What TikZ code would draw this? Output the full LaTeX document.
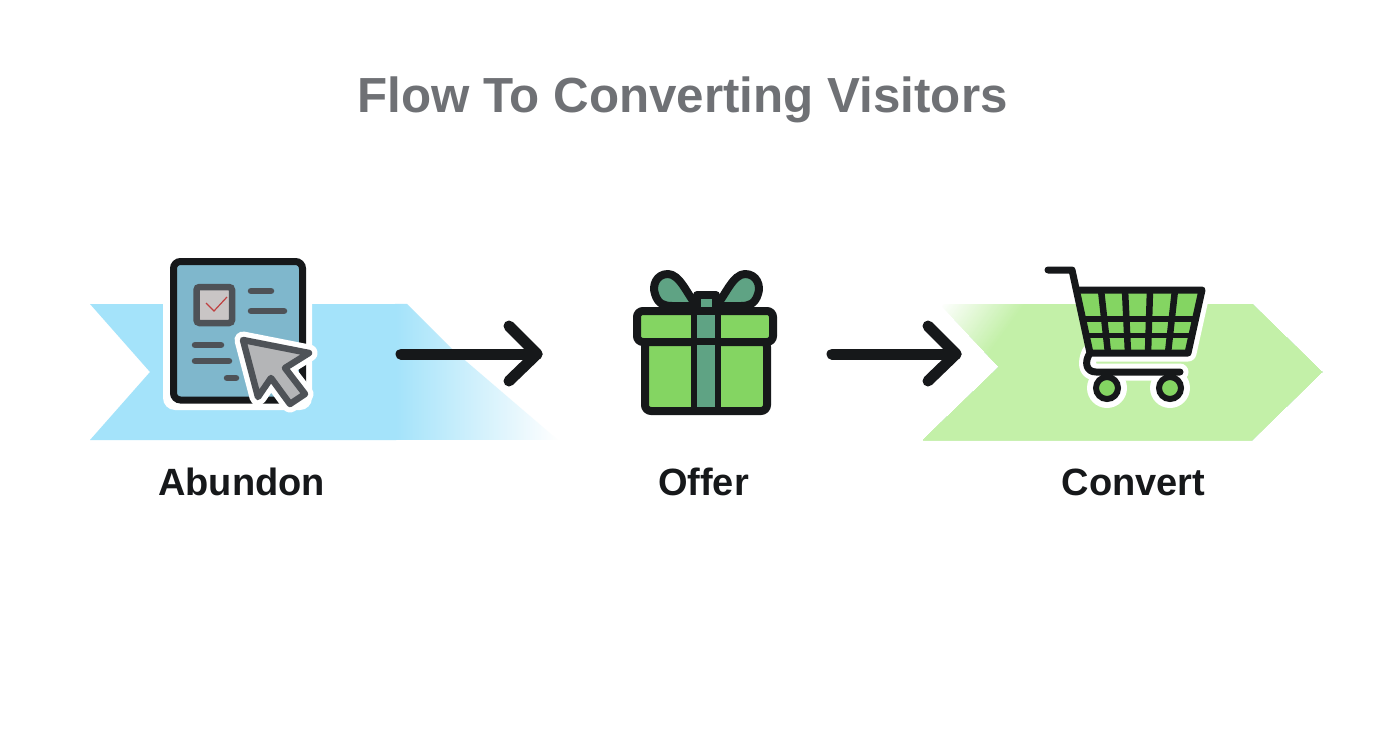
\documentclass[tikz,border=0pt]{standalone}
\usepackage{fontspec}
\setmainfont{Liberation Sans}
\usetikzlibrary{fadings}
\definecolor{bandblue}{HTML}{A4E3FA}
\definecolor{bandgreen}{HTML}{C3F0A8}
\definecolor{ink}{HTML}{16181A}
\definecolor{docblue}{HTML}{7FB7CC}
\definecolor{slate}{HTML}{4E5257}
\definecolor{cursorgray}{HTML}{B4B5B7}
\definecolor{checkgray}{HTML}{C9C5C5}
\definecolor{giftgreen}{HTML}{84D562}
\definecolor{ribbon}{HTML}{5FA384}
\definecolor{titlegray}{HTML}{6F7175}
\tikzfading[name=fadeR,left color=transparent!0,right color=transparent!100]
\tikzset{
  flow/.style={line width=11pt,ink,line cap=round,line join=round},
  lab/.style={font=\bfseries\fontsize{38}{42}\selectfont,text=ink,inner sep=0pt,anchor=base},
  iconline/.style={line width=6.5pt,slate,line cap=round},
  giftbox/.style={draw=ink,line width=8pt,fill=giftgreen,rounded corners=6pt},
  ribbonfill/.style={draw=ink,line width=8pt,fill=ribbon,line join=round},
  cartline/.style={draw=ink,line width=7pt,line cap=round,line join=round},
}
\begin{document}
\begin{tikzpicture}[x=1pt,y=-1pt]
\useasboundingbox (0,0) rectangle (1392,752);
\fill[white] (0,0) rectangle (1392,752);
\node[font=\bfseries\fontsize{49.3}{54}\selectfont,text=titlegray,inner sep=0pt,anchor=base] (title) at (682.5,112) {Flow To Converting Visitors};
% blue band
\fill[bandblue] (90,304) -- (396,304) -- (396,440) -- (90,440) -- (150,372) -- cycle;
\fill[bandblue,path fading=fadeR] (395,304) -- (407,304) -- (453,350) -- (558,440) -- (395,440) -- cycle;
% green band
\begin{scope}
\clip (940,304) -- (1252,304) -- (1322,372) -- (1252,440) -- (923,440) -- (999,367) -- cycle;
\foreach \d in {80,78,...,0}{
  \pgfmathtruncatemacro{\pct}{100-\d*1.2}
  \fill[bandgreen!\pct!white] (1024-\d,304) -- (925-\d,440) -- (1330,440) -- (1330,304) -- cycle;
}
\end{scope}
% document icon
\fill[white,rounded corners=12pt] (163,251) rectangle (312,410);
\draw[ink,line width=7pt,fill=docblue,rounded corners=7pt] (173.5,261.5) rectangle (302.5,400);
\draw[slate,line width=6.5pt,fill=checkgray,rounded corners=3pt] (196.5,287) rectangle (232,323);
\draw[red!50!gray,line width=1.2pt] (206,303) -- (214,311) -- (227,297);
\draw[iconline] (251,291) -- (271,291);
\draw[iconline] (251,311) -- (284,311);
\draw[iconline] (195,345) -- (221,345);
\draw[iconline] (195,361) -- (229,361);
\draw[iconline] (227,378) -- (236,378);
% cursor
\draw[white,line width=17pt,line join=round] (243,340) -- (309,353) -- (285,368) -- (305,394) -- (290,404) -- (271,378) -- (258,397) -- cycle;
\draw[slate,line width=6.5pt,line join=round,fill=cursorgray] (243,340) -- (309,353) -- (285,368) -- (305,394) -- (290,404) -- (271,378) -- (258,397) -- cycle;
% gift
\draw[ribbonfill] (697,306) .. controls (688,296) and (680,274) .. (668,274) .. controls (656,274) and (652,286) .. (655,294) .. controls (658,304) and (664,306) .. (672,306) -- cycle;
\draw[ribbonfill] (716,306) .. controls (725,296) and (733,274) .. (745,274) .. controls (757,274) and (761,286) .. (758,294) .. controls (755,304) and (749,306) .. (741,306) -- cycle;
\draw[ribbonfill] (697,295) rectangle (716,312);
\draw[giftbox] (645,341) rectangle (767,411);
\draw[giftbox] (637,311) rectangle (773,342);
\fill[ribbon] (695,315) rectangle (717,338);
\fill[ribbon] (695,345) rectangle (717,407);
\draw[ink,line width=6.5pt] (694,311) -- (694,411);
\draw[ink,line width=6.5pt] (718,311) -- (718,411);
% cart halo
\fill[white] (1077,290) -- (1202,290) -- (1188,353) -- (1090,353) -- cycle;
\draw[white,line width=17pt,line cap=round,line join=round] (1072,270) -- (1077,290) -- (1202,290) -- (1188,353) -- (1090,353) .. controls (1086,362) and (1086,372) .. (1096,372) -- (1180,372);
\fill[white] (1107,388) circle (20);
\fill[white] (1170,388) circle (20);
% cart
\fill[giftgreen] (1077,290) -- (1202,290) -- (1188,353) -- (1090,353) -- cycle;
\foreach \xa/\xb in {1101/1108,1125/1128,1150/1148,1175/1168}
  \draw[ink,line width=6.5pt] (\xa,290) -- (\xb,353);
\draw[ink,line width=5.5pt] (1082,319) -- (1196,319);
\draw[ink,line width=5.5pt] (1086,335.5) -- (1192,335.5);
\draw[cartline] (1048,270) -- (1072,270) -- (1090,353) .. controls (1084,362) and (1086,372) .. (1096,372) -- (1180,372);
\draw[cartline] (1077,290) -- (1202,290) -- (1188,353) -- (1090,353);
\draw[ink,line width=6pt,fill=giftgreen] (1107,388) circle (11);
\draw[ink,line width=6pt,fill=giftgreen] (1170,388) circle (11);
% arrows
\coordinate (a1s) at (401,354);
\coordinate (a1e) at (537,354);
\coordinate (a1u) at (509,326);
\coordinate (a1d) at (509,381);
\coordinate (a2s) at (832,354);
\coordinate (a2e) at (956,354);
\coordinate (a2u) at (928,326);
\coordinate (a2d) at (928,381);
\draw[flow] (a1s) -- (a1e);
\draw[flow] (a1u) -- (a1e) -- (a1d);
\draw[flow] (a2s) -- (a2e);
\draw[flow] (a2u) -- (a2e) -- (a2d);
% labels
\node[lab] (abandon) at (241.5,495) {Abundon};
\node[lab] (offer) at (703.5,495) {Offer};
\node[lab] (convert) at (1133.5,495) {Convert};
\end{tikzpicture}
\end{document}
